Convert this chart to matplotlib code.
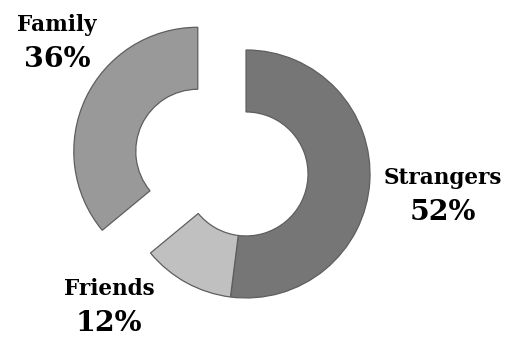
import matplotlib
matplotlib.use('Agg')
import matplotlib.pyplot as plt

labels = ['Strangers', 'Friends', 'Family']
shares = [52, 12, 36]
colors = ['#767676', '#c0c0c0', '#999999']
explode = [0, 0, 0.43]

fig = plt.figure(figsize=(5.14, 3.39), dpi=100)
ax = fig.add_axes([0, 0, 1, 1])

ax.pie(shares, colors=colors, explode=explode, startangle=90,
       counterclock=False, radius=1.0,
       wedgeprops=dict(width=0.5, edgecolor='#5e5e5e', linewidth=0.9))

ax.set_xlim(-1.984, 2.161)
ax.set_ylim(-1.331, 1.403)
ax.set_aspect('equal')
ax.axis('off')

# label name above, percentage below
label_pos = {'Strangers': (1.589, -0.03),
             'Friends': (-1.105, -0.93),
             'Family': (-1.525, 1.2)}
font = 'DejaVu Serif'
for name, val in zip(labels, shares):
    x, y = label_pos[name]
    ax.text(x, y, name, ha='center', va='center', fontsize=15.5,
            fontweight='bold', family=font)
    ax.text(x, y - 0.28, '%d%%' % val, ha='center', va='center',
            fontsize=20.5, fontweight='bold', family=font)

fig.savefig('out.png', dpi=100)
